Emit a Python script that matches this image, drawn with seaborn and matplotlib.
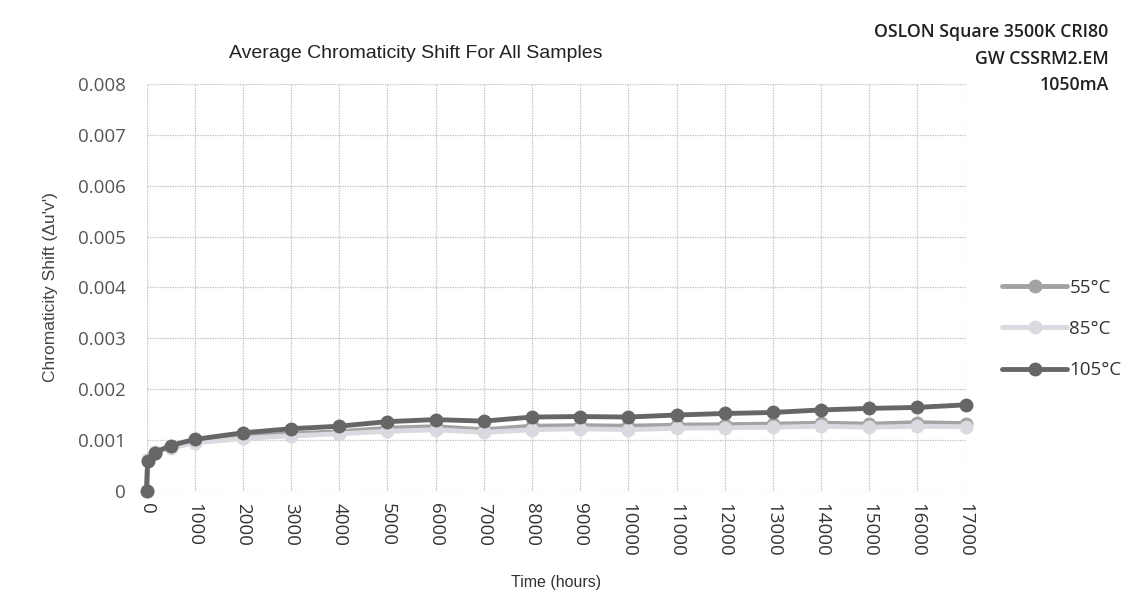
import numpy as np
import pandas as pd
import matplotlib
matplotlib.use("Agg")
import matplotlib.pyplot as plt
import seaborn as sns

# ---- data ----
hours = [0, 24, 168, 500, 1000, 2000, 3000, 4000, 5000, 6000, 7000, 8000,
         9000, 10000, 11000, 12000, 13000, 14000, 15000, 16000, 17000]
shift_55 = [0, 0.00060, 0.00075, 0.00086, 0.00097, 0.00106, 0.00112, 0.00116,
            0.00123, 0.00126, 0.00120, 0.00127, 0.00128, 0.00127, 0.00129,
            0.00130, 0.00131, 0.00133, 0.00131, 0.00134, 0.00132]
shift_85 = [0, 0.00062, 0.00077, 0.00084, 0.00094, 0.00103, 0.00108, 0.00112,
            0.00117, 0.00120, 0.00115, 0.00120, 0.00122, 0.00120, 0.00123,
            0.00124, 0.00125, 0.00127, 0.00125, 0.00127, 0.00126]
shift_105 = [0, 0.00058, 0.00075, 0.00089, 0.00101, 0.00114, 0.00122, 0.00127,
             0.00136, 0.00140, 0.00137, 0.00145, 0.00146, 0.00145, 0.00149,
             0.00152, 0.00154, 0.00159, 0.00162, 0.00164, 0.00169]
series_names = ["55°C", "85°C", "105°C"]
x_ticks = list(range(0, 17001, 1000))
x_tick_labels = [str(v) for v in x_ticks]
y_ticks = [0, 0.001, 0.002, 0.003, 0.004, 0.005, 0.006, 0.007, 0.008]
y_tick_labels = ["0", "0.001", "0.002", "0.003", "0.004", "0.005", "0.006", "0.007", "0.008"]

df = pd.DataFrame({
    "Time": hours * 3,
    "Shift": shift_55 + shift_85 + shift_105,
    "Series": [series_names[0]] * len(hours) + [series_names[1]] * len(hours) + [series_names[2]] * len(hours),
})

sns.set_style("white")
plt.rcParams['font.family'] = ['Liberation Sans', 'DejaVu Sans']
tickfont = ["Open Sans", "DejaVu Sans"]

fig = plt.figure(figsize=(11.36, 5.97), dpi=100)
ax = fig.add_axes([0.129, 0.178, 0.721, 0.681])

palette = {"55°C": "#a3a3a3", "85°C": "#d9d9df", "105°C": "#666666"}
sns.lineplot(data=df, x="Time", y="Shift", hue="Series", hue_order=series_names,
             palette=palette, marker="o", markersize=10, linewidth=3.5,
             markeredgewidth=0, ax=ax, legend=True, clip_on=False, zorder=3)

ax.set_xlim(0, 17000)
ax.set_ylim(0, 0.008)
ax.set_xticks(x_ticks)
ax.set_xticklabels(x_tick_labels, rotation=270, fontsize=13.5, color="#333333",
                   family=tickfont)
ax.set_yticks(y_ticks)
ax.set_yticklabels(y_tick_labels, fontsize=13.5, color="#555555", family=tickfont)
ax.tick_params(axis="x", length=0, pad=9)
ax.tick_params(axis="y", length=0, pad=15)
ax.grid(True, color="#bdbdbd", linestyle=(0, (1, 1)), linewidth=0.9)
for s in ax.spines.values():
    s.set_visible(False)

ax.set_xlabel("Time (hours)", fontsize=11.5, color="#333333", labelpad=13)
ax.set_ylabel("Chromaticity Shift (\u0394u'v')", fontsize=12.5, color="#444444")
ax.yaxis.set_label_coords(-0.108, 0.5)

fig.text(0.366, 0.910, "Average Chromaticity Shift For All Samples", ha="center",
         va="center", fontsize=14, color="#222222")
for txt, yy in [("OSLON Square 3500K CRI80", 0.946), ("GW CSSRM2.EM", 0.902), ("1050mA", 0.858)]:
    fig.text(0.976, yy, txt, ha="right", va="center", fontsize=12.8,
             fontweight="semibold", family=tickfont, color="#222222")

leg = ax.legend(loc="center left", bbox_to_anchor=(0.867, 0.449), bbox_transform=fig.transFigure,
                frameon=False, handlelength=3.5, handletextpad=0.1,
                labelspacing=1.25, prop={"family": tickfont, "size": 13.5})
for t in leg.get_texts():
    t.set_color("#333333")

fig.savefig("out.png", dpi=100, facecolor="white")
